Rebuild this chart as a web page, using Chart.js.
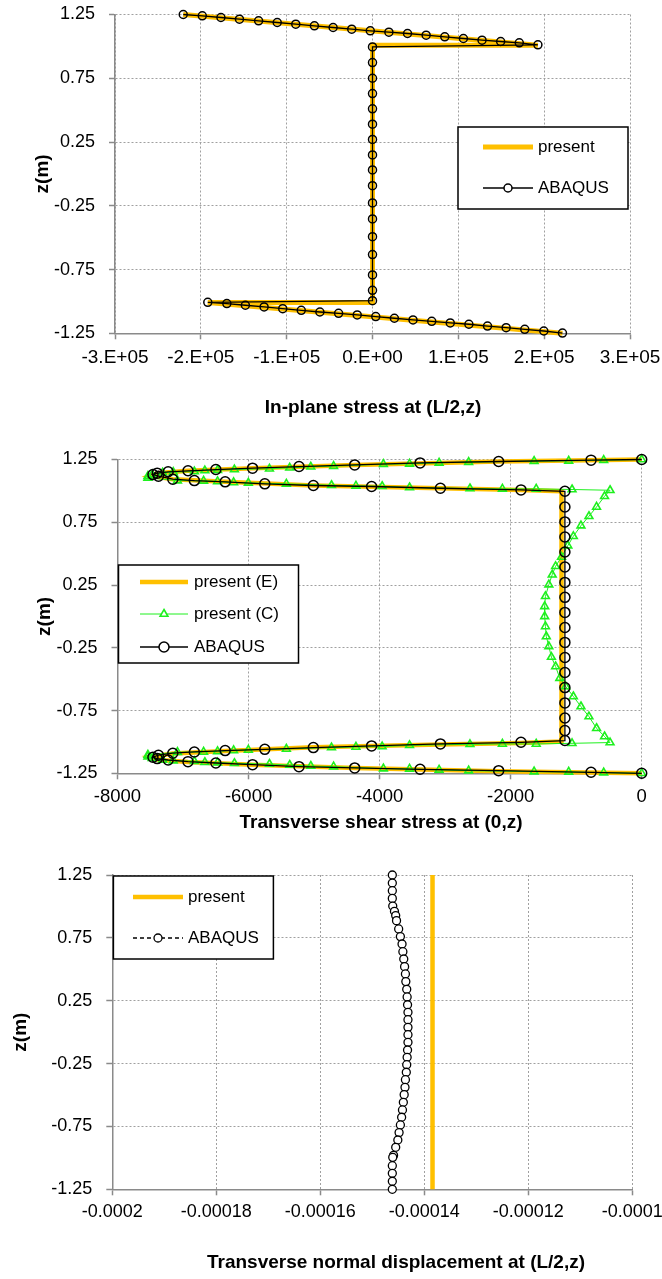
<!DOCTYPE html>
<html>
<head>
<meta charset="utf-8">
<script src="https://cdn.jsdelivr.net/npm/chart.js@4/dist/chart.umd.min.js"></script>
<style>
  body { margin: 0; background: #fff; }
  canvas { display: block; }
</style>
</head>
<body>
<canvas id="c1" width="662" height="420"></canvas>
<canvas id="c2" width="662" height="420"></canvas>
<canvas id="c3" width="662" height="439"></canvas>
<script>
// --- chart 1: in-plane stress at (L/2,z)
const stressAbaqus = [-2.205e5, -1.983e5, -1.766e5, -1.550e5, -1.327e5, -1.110e5, -0.894e5, -0.677e5, -0.459e5, -0.242e5, -0.026e5, 0.191e5, 0.408e5, 0.625e5, 0.842e5, 1.059e5, 1.276e5, 1.493e5, 1.710e5, 1.927e5,
  0, 0, 0, 0, 0, 0, 0, 0, 0, 0, 0, 0, 0, 0, 0, 0, 0,
  -1.919e5, -1.697e5, -1.481e5, -1.263e5, -1.046e5, -0.830e5, -0.613e5, -0.395e5, -0.178e5, 0.038e5, 0.255e5, 0.472e5, 0.690e5, 0.906e5, 1.123e5, 1.340e5, 1.557e5, 1.774e5, 1.996e5, 2.213e5]
const stressAbaqusZ = [1.25, 1.2395, 1.2265, 1.2134, 1.2003, 1.1872, 1.1742, 1.1611, 1.148, 1.135, 1.1219, 1.1114, 1.101, 1.0879, 1.0748, 1.0617, 1.0487, 1.0382, 1.0277, 1.012,
  0.996, 0.873, 0.75, 0.63, 0.51, 0.39, 0.27, 0.149, 0.031, -0.092, -0.228, -0.353, -0.492, -0.633, -0.792, -0.913, -0.994,
  -1.007, -1.017, -1.030, -1.043, -1.057, -1.070, -1.083, -1.093, -1.106, -1.119, -1.132, -1.145, -1.156, -1.169, -1.179, -1.193, -1.206, -1.219, -1.232, -1.248]
const stressPresent = [-2.205e5, 1.927e5, 0, 0, -1.919e5, 2.213e5]
const stressPresentZ = [1.25, 1.009, 1.009, -1.009, -1.009, -1.25]

// --- chart 2: transverse shear stress at (0,z)
const shearAbaqus = [0, -773, -2183, -3382, -4380, -5230, -5939, -6499, -6924, -7227, -7394, -7459, -7375, -7156, -6827, -6357, -5752, -5011, -4122, -3072, -1842, -1172,
  -1172, -1172, -1172, -1172, -1172, -1172, -1172, -1172, -1172, -1172, -1172, -1172, -1172, -1172, -1172, -1172, -1172,
  -1842, -3072, -4122, -5011, -5752, -6357, -6827, -7156, -7375, -7459, -7394, -7227, -6924, -6499, -5939, -5230, -4380, -3382, -2183, -773, 0]
const shearAbaqusZ = [1.25, 1.245, 1.234, 1.223, 1.207, 1.194, 1.181, 1.170, 1.160, 1.152, 1.141, 1.130, 1.117, 1.093, 1.082, 1.072, 1.056, 1.043, 1.035, 1.021, 1.008, 0.997,
  0.872, 0.753, 0.633, 0.513, 0.394, 0.271, 0.152, 0.032, -0.088, -0.207, -0.327, -0.447, -0.567, -0.689, -0.809, -0.910, -0.989,
  -1.003, -1.016, -1.032, -1.045, -1.059, -1.069, -1.080, -1.090, -1.106, -1.122, -1.133, -1.144, -1.157, -1.168, -1.181, -1.197, -1.207, -1.218, -1.229, -1.242, -1.25]
const shearPresentE = [0, -2183, -4380, -5939, -6924, -7394, -7500, -7156, -6357, -5011, -3072, -1842, -1224,
  -1224, -1842, -3072, -5011, -6357, -7156, -7500, -7394, -6924, -5939, -4380, -2183, 0]
const shearPresentEZ = [1.25, 1.234, 1.207, 1.181, 1.160, 1.141, 1.120, 1.093, 1.072, 1.043, 1.021, 1.008, 0.997,
  -0.997, -1.008, -1.021, -1.043, -1.072, -1.093, -1.120, -1.141, -1.160, -1.181, -1.207, -1.234, -1.25]
const shearPresentC = [0, -580, -1114, -1642, -2641, -3092, -3543, -3942, -4702, -5050, -5372, -5681, -6216, -6473, -6667, -6827, -7149, -7311, -7472, -7536,
  -7536, -7085, -6686, -6473, -6228, -6003, -5423, -4734, -4361, -3961, -3543, -2621, -2126, -1610, -1063,
  -483, -567, -689, -805, -927, -1043, -1127, -1224, -1314, -1366, -1417, -1469, -1481, -1481, -1469, -1456, -1417, -1378, -1314, -1250, -1159, -1043, -927, -805, -689, -567, -483,
  -1063, -1610, -2126, -2621, -3543, -3961, -4361, -4734, -5423, -6003, -6228, -6473, -6686, -7085, -7536,
  -7536, -7472, -7311, -7149, -6827, -6667, -6473, -6216, -5681, -5372, -5050, -4702, -3942, -3543, -3092, -2641, -1642, -1114, -580, 0]
const shearPresentCZ = [1.25, 1.245, 1.239, 1.237, 1.229, 1.223, 1.215, 1.213, 1.197, 1.192, 1.184, 1.176, 1.170, 1.165, 1.162, 1.154, 1.149, 1.144, 1.130, 1.117,
  1.104, 1.082, 1.080, 1.075, 1.067, 1.064, 1.056, 1.045, 1.040, 1.037, 1.027, 1.019, 1.016, 1.016, 1.011,
  1.005, 0.957, 0.872, 0.798, 0.723, 0.638, 0.564, 0.473, 0.399, 0.332, 0.253, 0.160, 0.080, 0.0, -0.080, -0.160, -0.239, -0.324, -0.399, -0.492, -0.559, -0.638, -0.718, -0.798, -0.891, -0.957, -1.005,
  -1.011, -1.016, -1.016, -1.019, -1.027, -1.037, -1.040, -1.045, -1.056, -1.064, -1.067, -1.075, -1.080, -1.082, -1.104,
  -1.117, -1.130, -1.144, -1.149, -1.154, -1.162, -1.165, -1.170, -1.176, -1.184, -1.192, -1.197, -1.213, -1.215, -1.223, -1.229, -1.237, -1.239, -1.245, -1.25]

// --- chart 3: transverse normal displacement at (L/2,z)
const dispAbaqus = [-1.4615e-4, -1.4615e-4, -1.4615e-4, -1.4615e-4, -1.4607e-4, -1.4574e-4, -1.4550e-4, -1.4534e-4, -1.4493e-4, -1.4460e-4, -1.4428e-4,
  -1.4412e-4, -1.4395e-4, -1.4379e-4, -1.4363e-4, -1.4355e-4, -1.4338e-4, -1.4330e-4, -1.4322e-4, -1.4314e-4, -1.4314e-4, -1.4314e-4,
  -1.4314e-4, -1.4314e-4, -1.4322e-4, -1.4330e-4, -1.4338e-4, -1.4346e-4, -1.4363e-4, -1.4371e-4, -1.4387e-4, -1.4403e-4, -1.4420e-4,
  -1.4436e-4, -1.4460e-4, -1.4485e-4, -1.4509e-4, -1.4550e-4, -1.4591e-4, -1.4607e-4, -1.4615e-4, -1.4615e-4, -1.4615e-4, -1.4615e-4]
const dispAbaqusZ = [1.25, 1.186, 1.125, 1.064, 1.003, 0.961, 0.927, 0.887, 0.821, 0.760, 0.701,
  0.640, 0.582, 0.521, 0.463, 0.402, 0.341, 0.280, 0.218, 0.158, 0.099, 0.038,
  -0.020, -0.081, -0.142, -0.200, -0.259, -0.319, -0.378, -0.439, -0.497, -0.558, -0.619,
  -0.677, -0.738, -0.799, -0.858, -0.916, -0.980, -0.996, -1.062, -1.123, -1.186, -1.25]
const dispPresent = [-1.3842e-4, -1.3842e-4]
const dispPresentZ = [1.25, -1.25]

const FONT = '"Liberation Sans", Arial, sans-serif'
const YELLOW = '#FFC000'
const GREEN = '#1EF01E'
Chart.defaults.font.family = FONT
Chart.defaults.color = '#000'

const pts = (xs, zs) => xs.map((x, i) => ({ x, y: zs[i] }))

// legend box drawn inside the plot, like the spreadsheet one
const boxLegend = {
  id: 'boxLegend',
  afterDraw(chart, args, o) {
    const ctx = chart.ctx
    ctx.save()
    ctx.fillStyle = '#fff'
    ctx.fillRect(o.x, o.y, o.w, o.h)
    ctx.lineWidth = 1.5
    ctx.strokeStyle = '#000'
    ctx.strokeRect(o.x, o.y, o.w, o.h)
    ctx.font = '17px ' + FONT
    ctx.textBaseline = 'middle'
    o.rows.forEach(r => {
      const ds = chart.data.datasets[r.index]
      ctx.strokeStyle = ds.borderColor
      ctx.lineWidth = ds.borderWidth
      ctx.setLineDash(ds.borderDash || [])
      ctx.beginPath()
      ctx.moveTo(o.x1, r.y)
      ctx.lineTo(o.x2, r.y)
      ctx.stroke()
      ctx.setLineDash([])
      if (ds.pointRadius) {
        const mx = (o.x1 + o.x2) / 2, rad = ds.pointRadius
        ctx.fillStyle = '#fff'
        ctx.strokeStyle = ds.pointBorderColor
        ctx.lineWidth = ds.pointBorderWidth
        ctx.beginPath()
        if (ds.pointStyle === 'triangle') {
          ctx.moveTo(mx, r.y - rad)
          ctx.lineTo(mx + rad * 0.866, r.y + rad * 0.5)
          ctx.lineTo(mx - rad * 0.866, r.y + rad * 0.5)
          ctx.closePath()
        } else {
          ctx.arc(mx, r.y, rad, 0, Math.PI * 2)
        }
        ctx.fill()
        ctx.stroke()
      }
      ctx.fillStyle = '#000'
      ctx.fillText(ds.label, o.tx, r.y)
    })
    ctx.restore()
  }
}

const axisCaption = {
  id: 'axisCaption',
  afterDraw(chart, args, o) {
    const ctx = chart.ctx
    ctx.save()
    ctx.font = 'bold 19px ' + FONT
    ctx.fillStyle = '#000'
    ctx.textAlign = 'center'
    ctx.textBaseline = 'middle'
    ctx.fillText(o.text, o.x, o.y)
    ctx.restore()
  }
}

function scales(c) {
  const grid = () => ({ color: '#a0a0a0', lineWidth: 1, tickLength: 6, tickColor: '#8a8a8a', tickWidth: 1.5 })
  const border = () => ({ color: '#8a8a8a', width: 1.5, dash: [2, 2] })
  return {
    x: {
      type: 'linear', min: c.xMin, max: c.xMax,
      ticks: { stepSize: c.xStep, callback: c.xFmt, padding: c.xPad, font: { size: c.xSize }, maxRotation: 0, autoSkip: false },
      grid: grid(), border: border(),
      afterFit: s => { s.height = c.xH; s.paddingLeft = 0; s.paddingRight = 0 }
    },
    y: {
      type: 'linear', min: -1.25, max: 1.25,
      ticks: { stepSize: 0.5, callback: v => v.toFixed(2), padding: 14, font: { size: 18 } },
      grid: grid(), border: border(),
      title: { display: true, text: 'z(m)', font: { size: 19, weight: 'bold' }, padding: { top: c.titlePad, bottom: 0 } },
      afterFit: s => { s.width = c.yW; s.paddingTop = 0; s.paddingBottom = 0 }
    }
  }
}

function makeChart(id, datasets, c) {
  return new Chart(document.getElementById(id), {
    type: 'scatter',
    data: { datasets },
    plugins: [boxLegend, axisCaption],
    options: {
      responsive: false,
      animation: false,
      layout: { padding: { top: c.top, right: c.right, left: 0, bottom: 0 } },
      scales: scales(c),
      plugins: {
        legend: { display: false },
        tooltip: { enabled: false },
        boxLegend: c.legend,
        axisCaption: c.caption
      }
    }
  })
}

const line = (label, data, color, width, extra) => Object.assign({
  label, data, showLine: true, tension: 0, clip: false,
  borderColor: color, borderWidth: width, pointRadius: 0
}, extra)

const sciFmt = v => v === 0 ? '0.E+00' : Math.round(v / 1e5) + '.E+05'

makeChart('c1', [
  line('present', pts(stressPresent, stressPresentZ), YELLOW, 5, { order: 1 }),
  line('ABAQUS', pts(stressAbaqus, stressAbaqusZ), '#000', 1.3, {
    order: 0, pointRadius: 4, pointStyle: 'circle', pointBorderColor: '#000', pointBorderWidth: 1.5, pointBackgroundColor: 'rgba(0,0,0,0)'
  })
], {
  xMin: -3e5, xMax: 3e5, xStep: 1e5, xFmt: sciFmt, xPad: 7, xH: 86.7, xSize: 19,
  yW: 115, top: 14.5, right: 32, titlePad: 30.9,
  legend: { x: 458, y: 127, w: 170, h: 82, x1: 483, x2: 533, tx: 538, rows: [{ index: 0, y: 147 }, { index: 1, y: 188 }] },
  caption: { text: 'In-plane stress at (L/2,z)', x: 373, y: 408 }
})

makeChart('c2', [
  line('present (E)', pts(shearPresentE, shearPresentEZ), YELLOW, 4.5, { order: 2 }),
  line('present (C)', pts(shearPresentC, shearPresentCZ), GREEN, 1, {
    order: 1, pointRadius: 4.5, pointStyle: 'triangle', pointBorderColor: GREEN, pointBorderWidth: 1.6, pointBackgroundColor: 'rgba(0,0,0,0)'
  }),
  line('ABAQUS', pts(shearAbaqus, shearAbaqusZ), '#000', 1.3, {
    order: 0, pointRadius: 5, pointStyle: 'circle', pointBorderColor: '#000', pointBorderWidth: 1.5, pointBackgroundColor: 'rgba(0,0,0,0)'
  })
], {
  xMin: -8000, xMax: 0, xStep: 2000, xFmt: v => String(v), xPad: 7, xH: 66.7, xSize: 18.5,
  yW: 117.5, top: 39.5, right: 20.3, titlePad: 33,
  legend: { x: 118.5, y: 145, w: 180, h: 98, x1: 140, x2: 188, tx: 194, rows: [{ index: 0, y: 162 }, { index: 1, y: 194 }, { index: 2, y: 227 }] },
  caption: { text: 'Transverse shear stress at (0,z)', x: 381, y: 403 }
})

makeChart('c3', [
  line('present', pts(dispPresent, dispPresentZ), YELLOW, 4.5, { order: 1 }),
  line('ABAQUS', pts(dispAbaqus, dispAbaqusZ), '#000', 1.5, {
    order: 0, borderDash: [4, 3], pointRadius: 4, pointStyle: 'circle', pointBorderColor: '#000', pointBorderWidth: 1.3, pointBackgroundColor: '#fff'
  })
], {
  xMin: -0.0002, xMax: -0.0001, xStep: 0.00002, xFmt: v => String(parseFloat(v.toPrecision(4))), xPad: 6, xH: 89.7, xSize: 18,
  yW: 112.3, top: 35, right: 29.7, titlePad: 8.9,
  legend: { x: 113.4, y: 36, w: 160, h: 83, x1: 133, x2: 183, tx: 188, rows: [{ index: 0, y: 57 }, { index: 1, y: 98 }] },
  caption: { text: 'Transverse normal displacement at (L/2,z)', x: 396, y: 423 }
})
</script>
</body>
</html>
